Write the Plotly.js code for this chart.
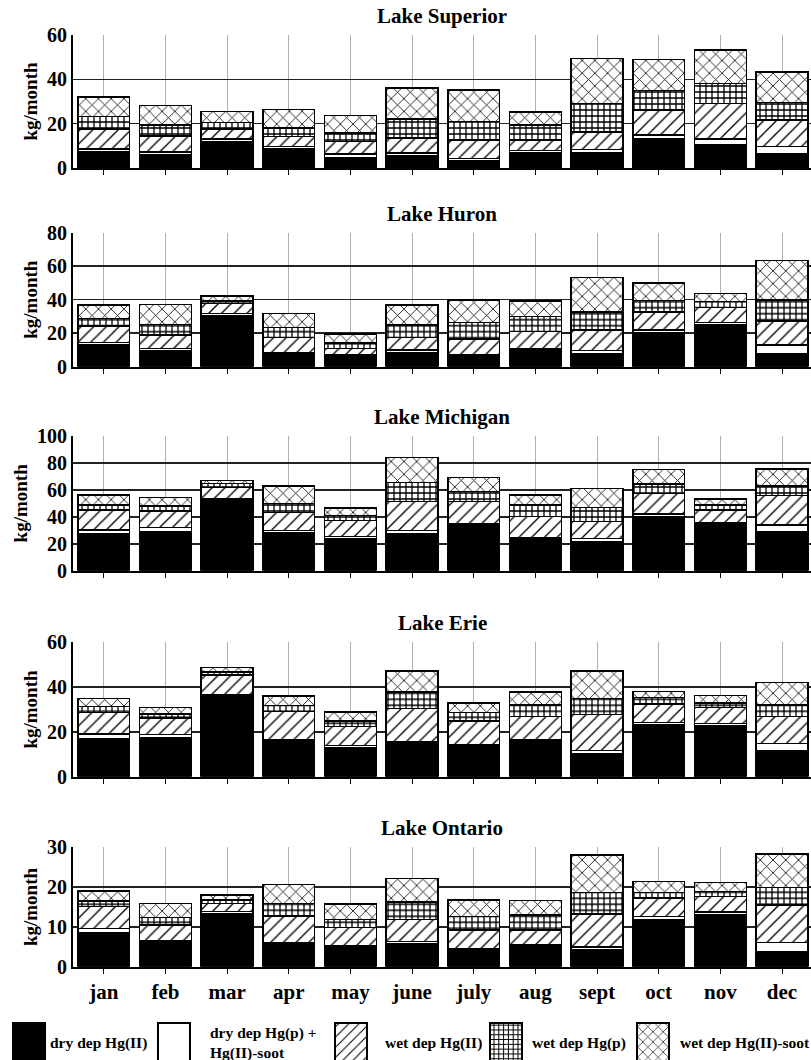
<!DOCTYPE html>
<html>
<head>
<meta charset="utf-8">
<script src="https://cdn.plot.ly/plotly-3.0.1.min.js"></script>
<style>html,body{margin:0;padding:0;background:#fff;}#chart{width:811px;height:1060px;}</style>
</head>
<body>
<div id="chart"></div>
<script>
const months = ['jan','feb','mar','apr','may','june','july','aug','sept','oct','nov','dec'];
const lakeNames = ['Lake Superior','Lake Huron','Lake Michigan','Lake Erie','Lake Ontario'];
const seriesNames = ['dry dep Hg(II)','dry dep Hg(p) +<br>Hg(II)-soot','wet dep Hg(II)','wet dep Hg(p)','wet dep Hg(II)-soot'];

// Lake Superior (kg/month)
const supDryHgII   = [7.2, 6.0, 12.0, 8.7, 4.8, 5.7, 3.3, 6.8, 6.8, 13.0, 10.5, 6.5];
const supDryHgP    = [1.3, 1.2, 1.0, 1.0, 1.5, 1.0, 0.9, 1.0, 1.6, 1.8, 2.5, 3.2];
const supWetHgII   = [9.0, 7.3, 4.5, 4.5, 5.7, 6.8, 8.5, 4.9, 7.8, 11.4, 16.2, 12.0];
const supWetHgP    = [5.7, 5.0, 3.0, 3.9, 3.7, 8.7, 8.3, 6.8, 13.0, 8.8, 9.0, 7.8];
const supWetSoot   = [8.8, 8.7, 5.0, 8.4, 8.0, 13.8, 14.2, 5.8, 20.1, 14.0, 15.0, 13.7];

// Lake Huron
const hurDryHgII   = [12.9, 9.4, 30.2, 8.0, 6.0, 8.6, 6.6, 10.0, 8.0, 20.3, 24.9, 8.0];
const hurDryHgP    = [1.6, 1.6, 1.6, 0.6, 1.0, 1.4, 0.4, 1.0, 1.6, 1.6, 1.4, 4.9];
const hurWetHgII   = [9.8, 7.9, 6.0, 8.9, 4.0, 7.5, 9.5, 10.0, 12.3, 10.9, 9.1, 14.4];
const hurWetHgP    = [4.6, 6.4, 1.4, 6.0, 3.3, 7.4, 10.0, 8.9, 10.9, 6.6, 3.4, 12.5];
const hurWetSoot   = [7.9, 11.9, 3.0, 8.3, 5.2, 11.9, 13.3, 9.3, 20.5, 10.7, 5.0, 23.5];

// Lake Michigan
const micDryHgII   = [27.7, 29.0, 52.0, 28.5, 24.0, 27.2, 34.2, 23.5, 21.5, 40.1, 34.4, 29.0];
const micDryHgP    = [2.5, 3.0, 1.2, 1.2, 1.5, 2.5, 0.9, 1.0, 2.3, 2.0, 1.2, 4.9];
const micWetHgII   = [14.8, 12.3, 8.7, 13.6, 11.6, 21.5, 16.1, 15.6, 12.6, 15.3, 9.4, 21.8];
const micWetHgP    = [3.8, 3.7, 3.0, 6.7, 3.7, 14.1, 7.5, 8.7, 10.4, 7.0, 3.8, 7.2];
const micWetSoot   = [7.4, 6.5, 1.9, 12.9, 5.7, 18.9, 10.6, 7.4, 14.3, 10.8, 4.4, 12.6];

// Lake Erie
const eriDryHgII   = [17.1, 17.4, 36.0, 15.6, 13.1, 14.9, 13.8, 15.6, 10.4, 23.1, 22.8, 11.6];
const eriDryHgP    = [1.9, 1.5, 0.8, 0.8, 0.9, 0.7, 0.4, 0.8, 1.2, 1.2, 1.0, 3.3];
const eriWetHgII   = [9.7, 7.2, 8.6, 12.6, 8.3, 14.9, 10.7, 10.4, 16.2, 8.2, 7.2, 11.9];
const eriWetHgP    = [2.6, 1.9, 1.3, 2.7, 2.6, 7.2, 3.8, 5.2, 7.2, 2.8, 2.0, 5.2];
const eriWetSoot   = [3.7, 3.0, 2.0, 4.3, 4.0, 9.5, 4.3, 5.7, 12.2, 2.7, 3.3, 10.0];

// Lake Ontario
const ontDryHgII   = [8.6, 5.9, 13.4, 5.4, 4.9, 5.7, 4.2, 4.9, 4.2, 11.9, 13.0, 3.8];
const ontDryHgP    = [1.0, 0.6, 0.5, 0.5, 0.4, 0.6, 0.3, 0.5, 0.8, 0.7, 0.7, 2.3];
const ontWetHgII   = [5.5, 4.0, 2.0, 6.8, 4.5, 5.6, 4.7, 3.8, 8.2, 4.6, 3.9, 9.4];
const ontWetHgP    = [1.4, 1.8, 0.9, 3.2, 2.1, 4.3, 3.4, 3.8, 5.5, 1.5, 1.3, 4.4];
const ontWetSoot   = [2.5, 3.6, 1.2, 4.8, 3.8, 6.0, 4.2, 3.6, 9.4, 2.7, 2.2, 8.4];

const yMax   = [60, 80, 100, 60, 30];
const yDtick = [20, 20, 20, 20, 10];

const lakeData = [
  [supDryHgII, supDryHgP, supWetHgII, supWetHgP, supWetSoot],
  [hurDryHgII, hurDryHgP, hurWetHgII, hurWetHgP, hurWetSoot],
  [micDryHgII, micDryHgP, micWetHgII, micWetHgP, micWetSoot],
  [eriDryHgII, eriDryHgP, eriWetHgII, eriWetHgP, eriWetSoot],
  [ontDryHgII, ontDryHgP, ontWetHgII, ontWetHgP, ontWetSoot]
];

// layout geometry (pixels)
const W = 811, H = 1060, MB = 45;
const PH = H - MB; // plot area height
const panelPx = [[35,168],[232.7,366.7],[436,570.7],[642.3,776.7],[847.3,966.7]]; // top,bottom
const LEGEND_CY = 1043;
const LEGEND_BOX_LEFT  = [13, 158, 335, 490, 637];
const LEGEND_TEXT_LEFT = [50, 210, 385, 532, 680];
const styles = [
  {color:'#000', pattern:{shape:''}},
  {color:'#fff', pattern:{shape:''}},
  {color:'#fff', pattern:{shape:'/', fgcolor:'#000', bgcolor:'#fff', size:9, solidity:0.15, fillmode:'replace'}},
  {color:'#fff', pattern:{shape:'+', fgcolor:'#000', bgcolor:'#fff', size:6, solidity:0.38, fillmode:'replace'}},
  {color:'#fff', pattern:{shape:'x', fgcolor:'#000', bgcolor:'#fff', size:9, solidity:0.17, fillmode:'replace'}}
];

const font = 'Liberation Serif, Times New Roman, serif';
const traces = [];
const layout = {
  width: W, height: H,
  margin: {l:73, r:0, t:0, b:MB},
  paper_bgcolor:'#fff', plot_bgcolor:'#fff',
  barmode:'stack', bargap:0.16,
  showlegend:true,
  font:{family:font, color:'#000'},
  legend:{orientation:'h', x:-0.088, xanchor:'left', y:(PH - H + 1)/PH, yanchor:'bottom',
          font:{family:font, size:15.5, weight:'bold', color:'#000'},
          itemwidth:30, entrywidth:113, entrywidthmode:'pixels',
          traceorder:'normal', tracegroupgap:0, bgcolor:'rgba(0,0,0,0)'},
  annotations:[]
};

lakeData.forEach((series, li) => {
  const n = li + 1;
  const sfx = n===1 ? '' : String(n);
  const xa = 'x' + sfx, ya = 'y' + sfx;
  series.forEach((vals, si) => {
    traces.push({
      type:'bar', x:months, y:vals, xaxis:xa, yaxis:ya,
      name:seriesNames[si], legendgroup:'s'+si, showlegend: li===0,
      marker:{color:styles[si].color, pattern:styles[si].pattern, line:{color:'#000', width:1.5}},
      hoverinfo:'y+name'
    });
  });
  const top = panelPx[li][0], bot = panelPx[li][1];
  layout['xaxis' + sfx] = {
    anchor: ya, type:'category', range:[-0.5, 11.47],
    showgrid:true, gridcolor:'#b0b0b0', gridwidth:1,
    showline:true, linecolor:'#000', linewidth:2,
    ticks:'outside', ticklen:5, tickcolor:'#000', tickwidth:1,
    showticklabels: li===4,
    tickfont:{family:font, size:21, weight:'bold', color:'#000'},
    fixedrange:true, zeroline:false, automargin:false
  };
  layout['yaxis' + sfx] = {
    anchor: xa, domain: [1 - bot/PH, 1 - top/PH], range:[0, yMax[li]], dtick:yDtick[li], tick0:0,
    showgrid:true, gridcolor:'#222', gridwidth:1.5,
    showline:true, linecolor:'#000', linewidth:2,
    ticks:'', zeroline:false,
    tickfont:{family:font, size:20, weight:'bold', color:'#000'},
    title:{text:'kg/month', font:{family:font, size:19, weight:'bold', color:'#000'}, standoff:4},
    automargin:false, fixedrange:true
  };
  layout.annotations.push({
    text: lakeNames[li], xref:'paper', yref:'paper', x:0.5, y: 1 - (top - 5)/PH,
    xanchor:'center', yanchor:'bottom', showarrow:false,
    font:{family:font, size:21, weight:'bold', color:'#000'}
  });
});

function parseT(el) {
  const m = /translate\(\s*([-\d.e]+)[ ,]+([-\d.e]+)\s*\)/.exec(el.getAttribute('transform') || '');
  return m ? [parseFloat(m[1]), parseFloat(m[2])] : [0, 0];
}

Plotly.newPlot('chart', traces, layout, {staticPlot:true}).then(() => {
  const lineH = 15.5 * 1.3;
  const legRoot = document.querySelector('.legend');
  if (!legRoot) return;
  legRoot.removeAttribute('clip-path');
  legRoot.querySelectorAll('[clip-path]').forEach(e => e.removeAttribute('clip-path'));
  const items = legRoot.querySelectorAll('.traces');
  items.forEach(tr => {
    tr.querySelectorAll('.legendpoints path').forEach(p => {
      p.setAttribute('d', 'M16,20H-16V-19H16Z');
      p.style.stroke = '#000';
      p.style.strokeWidth = '2px';
    });
    const nLines = tr.querySelectorAll('text.legendtext tspan.line').length;
    if (nLines > 1) {
      const [tx, ty] = parseT(tr);
      tr.setAttribute('transform', 'translate(' + tx + ',' + (ty - (nLines - 1) * lineH / 2) + ')');
    }
  });
  const root = () => document.getElementById('chart').getBoundingClientRect();
  // vertical alignment
  const firstText = legRoot.querySelector('.traces text.legendtext');
  if (firstText) {
    const r = firstText.getBoundingClientRect();
    const cy = r.top + r.height / 2 - root().top;
    const [lx, ly] = parseT(legRoot);
    legRoot.setAttribute('transform', 'translate(' + lx + ',' + (ly + LEGEND_CY - cy) + ')');
  }
  // horizontal placement of each legend entry
  items.forEach((tr, i) => {
    if (i >= LEGEND_BOX_LEFT.length) return;
    const p = tr.querySelector('.legendpoints path');
    if (p) {
      const pb = p.getBoundingClientRect();
      const dx = LEGEND_BOX_LEFT[i] - (pb.left - root().left);
      const [tx, ty] = parseT(tr);
      tr.setAttribute('transform', 'translate(' + (tx + dx) + ',' + ty + ')');
    }
    const txt = tr.querySelector('text.legendtext');
    if (txt) {
      const tb = txt.getBoundingClientRect();
      const ddx = LEGEND_TEXT_LEFT[i] - (tb.left - root().left);
      const x0 = parseFloat(txt.getAttribute('x') || '0') + ddx;
      txt.setAttribute('x', x0);
      txt.querySelectorAll('tspan.line').forEach(ts => ts.setAttribute('x', x0));
    }
  });
});
</script>
</body>
</html>
